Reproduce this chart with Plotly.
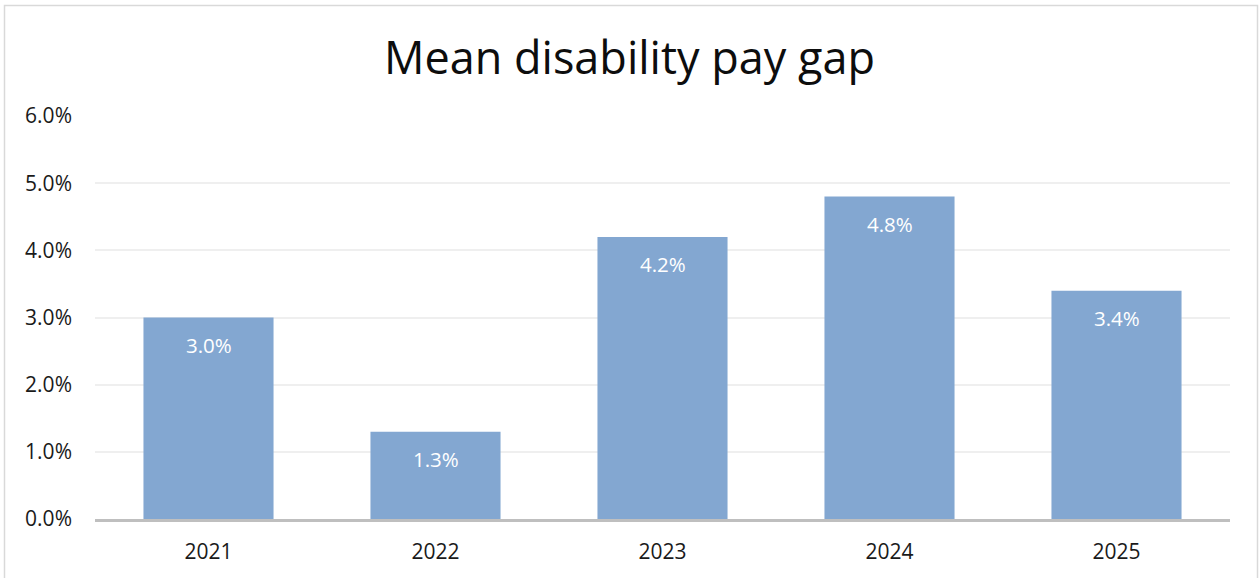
import plotly.graph_objects as go

years = ["2021", "2022", "2023", "2024", "2025"]
gap_pct = [3.0, 1.3, 4.2, 4.8, 3.4]
tick_vals = [0, 1, 2, 3, 4, 5, 6]
tick_text = ["0.0%", "1.0%", "2.0%", "3.0%", "4.0%", "5.0%", "6.0%"]

W, H = 1259, 578
L, R, T, B = 95, 29, 116, 59
pw, ph = W - L - R, H - T - B

fig = go.Figure(go.Bar(
    x=years, y=gap_pct,
    marker=dict(color="#83A7D1", line=dict(width=0)),
    textposition="none",
    hoverinfo="x+y",
))

# value labels (category index positions on the category axis)
for i, v in enumerate(gap_pct):
    fig.add_annotation(x=i, y=v, xref="x", yref="y", text=f"{v:.1f}%", showarrow=False,
                       yshift=-27, yanchor="middle", xanchor="center",
                       font=dict(color="white", size=20.5, family="Open Sans"))

fig.update_layout(
    width=W, height=H,
    margin=dict(l=L, r=R, t=T, b=B),
    paper_bgcolor="white", plot_bgcolor="white",
    bargap=0.427,
    showlegend=False,
    title=dict(text="Mean disability pay gap", x=0.5, xanchor="center",
               y=1 - 58 / H, yanchor="middle",
               font=dict(family="Open Sans", size=45, color="#0D0D0D")),
    font=dict(family="Open Sans", size=21, color="#1A1A1A"),
    xaxis=dict(type="category", categoryorder="array", categoryarray=years,
               range=[-0.5, len(years) - 0.5], autorange=False,
               showgrid=False, showline=True, linecolor="#BFBFBF", linewidth=3,
               ticks="", tickfont=dict(size=21, color="#1A1A1A"), ticklabelstandoff=12),
    yaxis=dict(range=[0, 6], tickvals=tick_vals, ticktext=tick_text,
               showgrid=True, gridcolor="#EFEFEF", gridwidth=1.5, zeroline=False,
               showline=False, ticks="", tickfont=dict(size=21, color="#1A1A1A"),
               ticklabelstandoff=22),
)

# outer chart border
x0 = (4.5 - L) / pw
x1 = (1257.5 - L) / pw
y1 = (H - B - 5.5) / ph
y0 = (H - B - 600) / ph
fig.add_shape(type="rect", xref="paper", yref="paper",
              x0=x0, x1=x1, y0=y0, y1=y1,
              line=dict(color="#D9D9D9", width=1.5), fillcolor="rgba(0,0,0,0)",
              layer="below")

fig.write_html("out.html", config={"displayModeBar": False},
               post_script="document.body.style.margin='0';document.body.style.padding='0';document.body.style.overflow='hidden';")
